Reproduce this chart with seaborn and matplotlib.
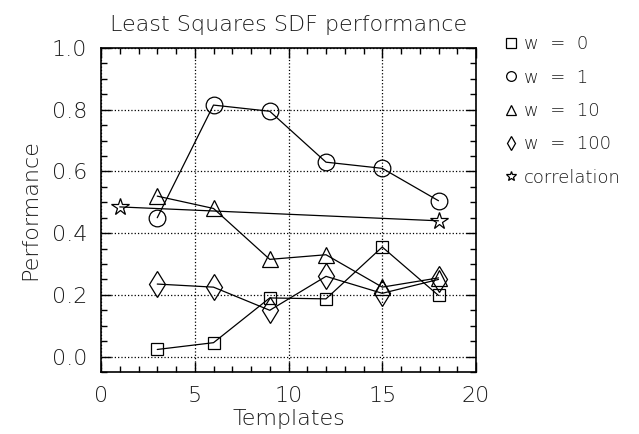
import matplotlib
matplotlib.use("Agg")
import matplotlib.pyplot as plt
import seaborn as sns
import pandas as pd
from matplotlib.ticker import MultipleLocator
from matplotlib.lines import Line2D

templates = [3, 6, 9, 12, 15, 18]
w0 = [0.023, 0.045, 0.19, 0.187, 0.355, 0.198]
w1 = [0.45, 0.815, 0.795, 0.63, 0.61, 0.505]
w10 = [0.52, 0.48, 0.315, 0.33, 0.225, 0.255]
w100 = [0.235, 0.225, 0.15, 0.26, 0.205, 0.25]
corr_x = [1, 18]
corr_y = [0.485, 0.44]
labels = ["w  =  0", "w  =  1", "w  =  10", "w  =  100", "correlation"]
markers = ["s", "o", "^", "d", "*"]
msizes = [9, 12, 12, 13, 13]

series = [(templates, w0), (templates, w1), (templates, w10), (templates, w100), (corr_x, corr_y)]

sns.set_style("ticks")
plt.rcParams["font.family"] = ["DejaVu Sans"]
plt.rcParams["font.weight"] = "light"
plt.rcParams["axes.labelweight"] = "light"
plt.rcParams["axes.titleweight"] = "light"
fig = plt.figure(figsize=(6.39, 4.34), dpi=100)
ax = fig.add_axes([101/639, 1 - 372/434, 375/639, 324/434])

for (xs, ys), lab, m, ms in zip(series, labels, markers, msizes):
    df = pd.DataFrame({"Templates": xs, "Performance": ys})
    sns.lineplot(data=df, x="Templates", y="Performance", ax=ax, color="black",
                 marker=m, markersize=ms, markerfacecolor="none",
                 markeredgecolor="black", markeredgewidth=0.9, linewidth=0.9)

txtc = "#1a1a1a"
ax.set_xlim(0, 20)
ax.set_ylim(-0.05, 1.0)
ax.xaxis.set_major_locator(MultipleLocator(5))
ax.xaxis.set_minor_locator(MultipleLocator(1))
ax.yaxis.set_minor_locator(MultipleLocator(0.05))
ax.set_yticks([0, 0.2, 0.4, 0.6, 0.8, 1.0])
ax.set_yticklabels(["0.0", "0.2", "0.4", "0.6", "0.8", "1.0"])
ax.tick_params(which="both", direction="in", top=True, right=True, color="black")
ax.tick_params(which="major", length=7, width=1, labelsize=16, pad=10, labelcolor=txtc)
ax.tick_params(which="minor", length=4, width=1)
ax.grid(True, which="major", linestyle=":", color="black", linewidth=0.9)
for s in ax.spines.values():
    s.set_linewidth(1.2)
    s.set_color("black")
ax.set_xlabel("Templates", fontsize=16, color=txtc, labelpad=2, fontweight="light")
ax.set_ylabel("Performance", fontsize=16, color=txtc, labelpad=8, fontweight="light")
ax.set_title("Least Squares SDF performance", fontsize=16, color=txtc, pad=12, fontweight="light")

handles = [Line2D([], [], linestyle="none", marker=m, markerfacecolor="none",
                  markeredgecolor="black", markersize=7, markeredgewidth=0.9)
           for m in markers]
fig.legend(handles, labels, loc="upper left", bbox_to_anchor=(497/639, 1 - 28/434),
           frameon=False, fontsize=13, handletextpad=0.3, labelspacing=0.85,
           handlelength=0.8, borderaxespad=0, labelcolor=txtc)

fig.savefig("out.png", dpi=100)
